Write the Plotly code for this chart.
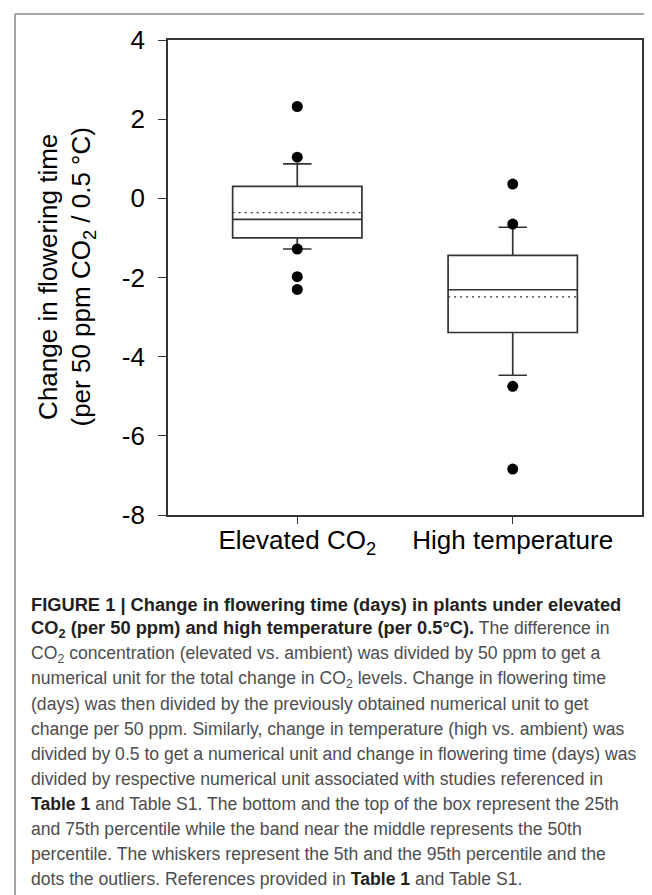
import plotly.graph_objects as go

# ---- data ----
categories = ["Elevated CO<sub>2</sub>", "High temperature"]
positions = [0, 1]
q1 = [-1.00, -3.39]
median = [-0.53, -2.31]
q3 = [0.30, -1.44]
mean = [-0.36, -2.49]
whisker_low = [-1.28, -4.47]
whisker_high = [0.87, -0.73]
outliers_co2 = [2.32, 1.04, -1.28, -1.98, -2.30]
outliers_temp = [0.36, -0.65, -4.75, -6.84]
y_ticks = [-8, -6, -4, -2, 0, 2, 4]
y_tick_labels = ["-8", "-6", "-4", "-2", "0", "2", "4"]

G = "<span style='color:#4d4d4f;font-size:17.6px'>"
B = "<span style='color:#231f20;font-size:18.3px'><b>"
BS = "<span style='color:#231f20;font-size:17.6px'><b>"
BE = "</b></span>"
caption_lines = [
    B + "FIGURE 1 | Change in flowering time (days) in plants under elevated" + BE,
    B + "CO<sub>2</sub> (per 50 ppm) and high temperature (per 0.5°C)." + BE + G + " The difference in</span>",
    G + "CO<sub>2</sub> concentration (elevated vs. ambient) was divided by 50 ppm to get a</span>",
    G + "numerical unit for the total change in CO<sub>2</sub> levels. Change in flowering time</span>",
    G + "(days) was then divided by the previously obtained numerical unit to get</span>",
    G + "change per 50 ppm. Similarly, change in temperature (high vs. ambient) was</span>",
    G + "divided by 0.5 to get a numerical unit and change in flowering time (days) was</span>",
    G + "divided by respective numerical unit associated with studies referenced in</span>",
    BS + "Table 1" + BE + G + " and Table S1. The bottom and the top of the box represent the 25th</span>",
    G + "and 75th percentile while the band near the middle represents the 50th</span>",
    G + "percentile. The whiskers represent the 5th and the 95th percentile and the</span>",
    G + "dots the outliers. References provided in </span>" + BS + "Table 1" + BE + G + " and Table S1.</span>",
]

# ---- layout constants ----
W, H = 652, 895
ML, MR, MT, MB = 160, 18, 32, 388
PW = W - ML - MR
PH = H - MT - MB
BOX_W = 0.6
LINE_C = "#333333"
FONT = "Liberation Sans, Arial, sans-serif"


def px_x(p):
    return (p - ML) / PW


def px_y(p):
    return (H - MB - p) / PH


fig = go.Figure()

fig.add_trace(go.Box(
    x=positions, q1=q1, median=median, q3=q3,
    lowerfence=whisker_low, upperfence=whisker_high,
    width=BOX_W, whiskerwidth=0.22,
    fillcolor="white", line=dict(color=LINE_C, width=1.7),
    boxpoints=False, hoverinfo="skip", showlegend=False,
))

# mean (dotted)
for p, m in zip(positions, mean):
    fig.add_trace(go.Scatter(
        x=[p - BOX_W / 2, p + BOX_W / 2], y=[m, m], mode="lines",
        line=dict(color=LINE_C, width=1.4, dash="2px,4px"),
        showlegend=False, hoverinfo="skip",
    ))

# outliers
for p, vals in zip(positions, [outliers_co2, outliers_temp]):
    fig.add_trace(go.Scatter(
        x=[p] * len(vals), y=vals, mode="markers",
        marker=dict(color="black", size=11),
        showlegend=False, hoverinfo="skip",
    ))

fig.update_layout(
    width=W, height=H,
    margin=dict(l=ML, r=MR, t=MT, b=MB),
    plot_bgcolor="white", paper_bgcolor="white",
    font=dict(family=FONT, color="black"),
    xaxis=dict(
        range=[-0.6, 1.6], tickvals=positions, ticktext=categories,
        showline=True, linecolor=LINE_C, linewidth=1.7, mirror=True,
        ticks="outside", ticklen=7, tickcolor=LINE_C, tickwidth=1.4,
        showgrid=False, zeroline=False, tickfont=dict(size=26),
        ticklabelstandoff=-6,
    ),
    yaxis=dict(
        range=[-8, 4], tickvals=y_ticks, ticktext=y_tick_labels,
        showline=True, linecolor=LINE_C, linewidth=1.7, mirror=True,
        ticks="outside", ticklen=8, tickcolor=LINE_C, tickwidth=1.4,
        showgrid=False, zeroline=False, tickfont=dict(size=26),
        ticklabelstandoff=8,
    ),
)

# y-axis title
fig.add_annotation(
    xref="paper", yref="paper", x=px_x(58), y=0.5,
    text="Change in flowering time<br>(per 50 ppm CO<sub>2</sub> / 0.5 °C)",
    textangle=-90, showarrow=False, xanchor="center", yanchor="middle",
    font=dict(size=26, color="black", family=FONT),
)

# caption
for i, line in enumerate(caption_lines):
    fig.add_annotation(
        xref="paper", yref="paper", x=px_x(21), y=px_y(596 + 25 * i),
        text=line, showarrow=False, xanchor="left", yanchor="middle",
        align="left", font=dict(size=17.6, color="#231f20", family=FONT),
    )

# outer frame (top and left edges visible)
fig.add_shape(type="line", xref="paper", yref="paper",
              x0=px_x(7), x1=px_x(W + 20), y0=px_y(6), y1=px_y(6),
              line=dict(color="#8a8a8a", width=1.5))
fig.add_shape(type="line", xref="paper", yref="paper",
              x0=px_x(7), x1=px_x(7), y0=px_y(6), y1=px_y(H + 20),
              line=dict(color="#8a8a8a", width=1.5))

fig.write_html("out.html")
